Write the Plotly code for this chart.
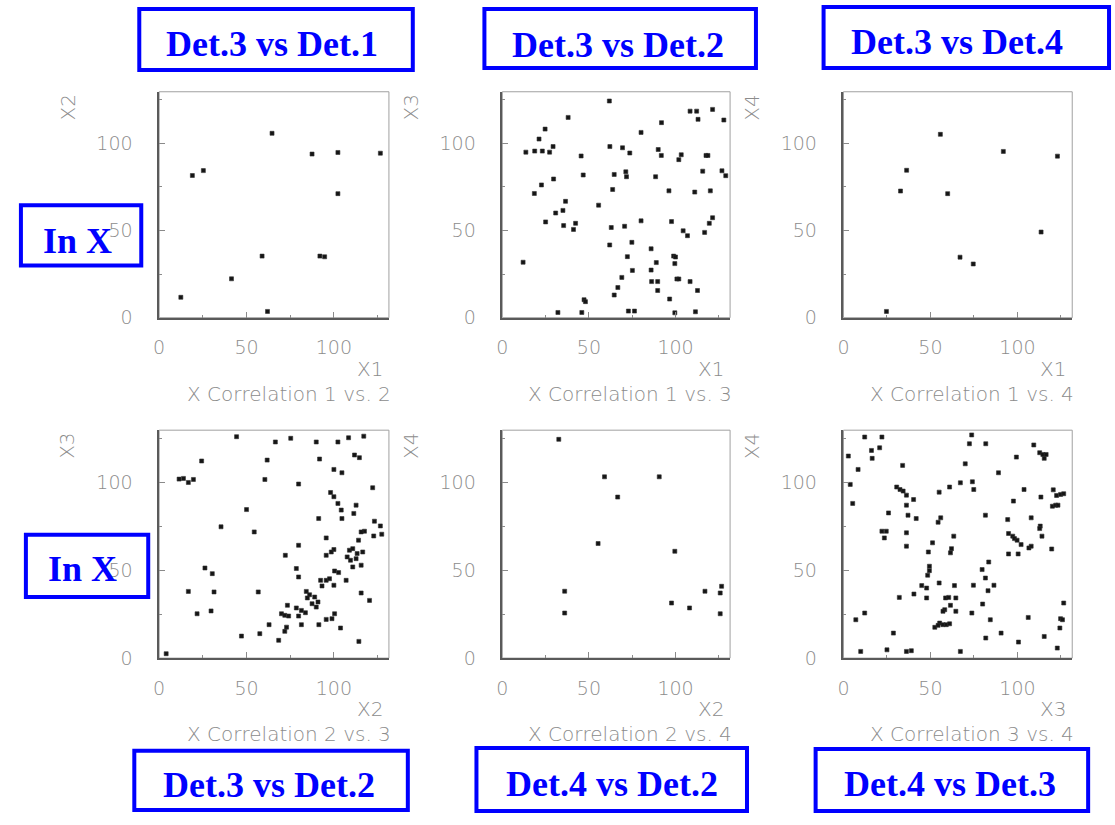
import plotly.graph_objects as go

# ---------------- data ----------------
# Panel 1: X Correlation 1 vs. 2  (X1 -> x, X2 -> y)
p1_x = [64.6, 87.5, 102.3, 126.6, 19.0, 25.3, 102.3, 58.9, 92.0, 94.7, 41.4, 12.4, 62.0]
p1_y = [105.7, 93.8, 94.7, 94.3, 81.5, 84.3, 71.1, 35.3, 35.3, 34.9, 22.3, 11.7, 3.6]

# Panel 2: X Correlation 1 vs. 3  (X1 -> x, X3 -> y)
p2_x = [61.8, 38.0, 24.7, 21.2, 13.6, 18.7, 23.1, 27.3, 29.3, 45.5, 29.6, 22.6, 18.5, 36.5,
        35.0, 30.8, 25.0, 35.4, 42.3, 41.1, 46.7, 12.0, 32.1, 45.9, 47.2, 48.0, 55.6, 62.1,
        62.9, 62.0, 64.6, 63.7, 69.4, 73.6, 71.3, 71.7, 70.6, 74.8, 72.2, 75.1, 69.0, 66.7,
        64.6, 72.8, 76.3, 80.1, 80.1, 85.9, 85.9, 88.9, 86.2, 89.7, 89.7, 88.5, 90.0, 91.8,
        91.9, 96.2, 97.7, 98.9, 100.0, 99.6, 100.8, 101.9, 96.6, 99.6, 101.9, 103.3, 104.4,
        106.9, 108.4, 108.4, 112.2, 113.0, 111.1, 111.5, 112.7, 115.7, 117.6, 118.7, 116.8,
        119.5, 121.4, 120.1, 121.4, 127.9, 126.8, 129.0]
p2_y = [124.2, 114.8, 108.1, 102.4, 94.9, 95.5, 95.5, 94.9, 98.1, 92.7, 79.5, 76.1, 71.2, 66.7,
        61.5, 60.0, 54.9, 52.8, 54.1, 50.6, 81.8, 31.8, 3.0, 3.0, 10.3, 9.2, 64.5, 98.1,
        51.7, 41.7, 82.1, 73.5, 97.4, 94.4, 83.6, 80.8, 52.4, 43.2, 35.0, 27.1, 23.1, 17.3,
        13.0, 3.8, 3.8, 106.2, 55.5, 39.5, 27.3, 31.6, 20.7, 20.7, 15.6, 80.8, 96.4, 93.0,
        111.8, 72.7, 55.1, 35.3, 34.8, 31.0, 22.2, 22.2, 10.7, 2.8, 90.6, 93.4, 49.8,
        47.0, 20.7, 118.4, 118.4, 113.7, 72.0, 3.4, 15.6, 84.0, 93.0, 93.0, 48.9,
        54.1, 57.3, 72.7, 119.4, 113.3, 84.2, 81.4]

# Panel 3: X Correlation 1 vs. 4  (X1 -> x, X4 -> y)
p3_x = [55.7, 91.9, 123.0, 36.3, 32.8, 59.9, 113.6, 67.0, 74.6, 24.7]
p3_y = [105.1, 95.3, 92.6, 84.5, 72.6, 71.1, 49.1, 34.7, 30.8, 3.6]

# Panel 4: X Correlation 2 vs. 3  (X2 -> x, X3 -> y)
p4_x = [44.3, 75.3, 66.5, 89.9, 102.3, 108.4, 117.1, 24.3, 61.8, 91.8, 111.8, 114.6, 100.0,
        104.6, 11.4, 13.9, 16.7, 19.6, 60.5, 79.8, 122.2, 98.1, 100.0, 102.3, 104.2, 112.7,
        111.4, 104.6, 91.3, 50.0, 35.4, 54.4, 123.2, 126.6, 127.4, 122.8, 117.5, 115.6, 114.1,
        95.6, 100.0, 98.5, 95.6, 108.9, 110.8, 113.3, 116.5, 107.6, 109.5, 112.7, 110.8, 115.6,
        79.8, 72.2, 78.5, 79.8, 26.2, 30.4, 100.4, 102.7, 95.6, 97.5, 92.4, 93.2, 100.0, 107.0,
        16.7, 31.4, 56.7, 84.2, 86.1, 84.8, 89.0, 90.9, 89.9, 87.5, 115.6, 120.4, 73.4, 78.5,
        81.4, 83.7, 70.0, 71.9, 74.1, 79.8, 21.7, 29.7, 100.4, 98.9, 95.6, 91.4, 81.4, 72.9,
        71.9, 68.4, 62.9, 57.6, 47.1, 103.8, 114.3, 4.0]
p4_y = [125.8, 124.9, 122.8, 122.8, 122.8, 125.2, 126.1, 112.0, 112.5, 113.1, 115.4, 113.9, 107.2,
        105.3, 101.7, 102.1, 99.8, 101.5, 101.5, 98.9, 96.8, 94.1, 91.7, 87.9, 84.1, 86.9,
        82.2, 79.3, 79.3, 84.4, 74.6, 71.7, 77.8, 75.1, 70.4, 69.4, 72.1, 71.7, 67.0,
        68.3, 61.7, 60.3, 58.4, 61.3, 62.2, 59.4, 60.3, 57.5, 55.6, 56.5, 51.8, 52.8,
        64.1, 58.4, 50.9, 46.1, 51.2, 48.0, 49.5, 48.6, 44.2, 45.1, 44.2, 41.0, 41.4, 44.2,
        37.9, 37.6, 37.6, 37.9, 36.0, 34.2, 34.7, 31.9, 29.0, 30.9, 37.0, 32.8, 30.0, 28.5,
        27.1, 25.8, 25.2, 24.3, 23.9, 23.9, 25.2, 26.8, 25.2, 22.4, 22.0, 19.0, 19.0, 17.6,
        15.2, 10.1, 19.0, 13.9, 12.5, 17.1, 9.5, 2.5]

# Panel 5: X Correlation 2 vs. 4  (X2 -> x, X4 -> y)
p5_x = [32.6, 59.0, 90.6, 66.6, 55.3, 99.6, 36.0, 36.0, 97.7, 108.1, 117.0, 125.8, 126.6, 125.8]
p5_y = [124.3, 103.0, 103.0, 91.5, 65.1, 60.7, 38.0, 25.6, 31.3, 28.5, 38.0, 37.0, 40.8, 25.2]

# Panel 6: X Correlation 3 vs. 4  (X3 -> x, X4 -> y)
p6_x = [12.2, 22.1, 73.7, 72.4, 81.8, 109.4, 112.8, 114.6, 116.5, 115.4, 16.1, 16.5, 20.8, 2.8,
        8.4, 34.0, 70.0, 99.4, 89.1, 3.9, 5.3, 30.6, 32.5, 34.3, 36.2, 40.3, 36.2, 25.9, 37.1,
        41.8, 55.0, 61.0, 67.2, 74.1, 74.9, 54.4, 55.9, 81.6, 63.4, 62.1, 61.5, 51.2, 48.8,
        49.4, 49.4, 48.4, 45.0, 47.8, 47.8, 40.5, 32.1, 55.0, 63.8, 58.7, 60.5, 64.6, 61.5,
        58.2, 57.2, 64.6, 55.3, 52.5, 54.4, 57.2, 59.1, 61.0, 74.7, 73.8, 80.0, 84.4, 81.8,
        90.6, 79.7, 81.6, 83.5, 83.1, 86.5, 94.4, 97.7, 103.8, 94.9, 97.3, 98.3, 99.8, 102.1,
        94.9, 100.4, 106.6, 107.9, 107.9, 113.1, 112.8, 114.1, 113.5, 119.7, 120.6, 122.5,
        124.8, 126.6, 120.1, 122.0, 123.3, 106.2, 115.4, 124.8, 125.9, 124.4, 126.6, 122.9,
        100.6, 28.7, 12.2, 7.1, 9.9, 25.0, 36.2, 39.0, 67.2, 22.1, 23.5, 24.6, 36.2, 36.2]
p6_y = [125.6, 125.6, 126.8, 121.8, 121.8, 121.1, 116.7, 115.7, 115.7, 113.5, 118.0, 113.5, 119.5, 114.8,
        107.2, 109.5, 110.4, 114.2, 105.3, 98.7, 87.9, 97.2, 95.8, 94.9, 92.6, 90.1, 86.9, 82.5, 81.2,
        79.3, 94.3, 97.2, 99.6, 100.2, 95.8, 77.2, 79.7, 81.2, 69.3, 62.2, 59.8, 65.5, 60.3,
        52.2, 49.7, 47.1, 41.2, 39.8, 34.2, 36.4, 34.5, 42.7, 41.2, 34.2, 34.5, 34.2, 30.0,
        27.5, 26.6, 26.6, 19.9, 17.5, 18.6, 19.0, 19.0, 19.5, 41.4, 25.6, 30.7, 21.8, 11.4,
        14.2, 50.3, 45.5, 54.6, 38.3, 41.4, 78.7, 89.2, 95.8, 70.8, 69.3, 67.9, 67.0, 64.5,
        59.2, 59.2, 62.6, 63.6, 79.7, 75.0, 73.6, 69.3, 91.5, 62.0, 95.6, 92.4,
        93.0, 93.4, 86.3, 86.9, 86.9, 23.1, 12.3, 22.4, 21.8, 17.1, 31.3, 5.7,
        9.1, 14.2, 25.6, 21.8, 3.8, 4.7, 3.8, 4.2, 3.8, 72.1, 68.3, 72.1, 71.2, 63.6]

panel_titles = ["X Correlation 1 vs. 2", "X Correlation 1 vs. 3", "X Correlation 1 vs. 4",
                "X Correlation 2 vs. 3", "X Correlation 2 vs. 4", "X Correlation 3 vs. 4"]
x_titles = ["X1", "X1", "X1", "X2", "X2", "X3"]
y_titles = ["X2", "X3", "X4", "X3", "X4", "X4"]
tick_values = [0, 50, 100]
tick_labels = ["0", "50", "100"]
minor_values = [25, 75, 125]

box_texts = ["Det.3 vs Det.1", "Det.3 vs Det.2", "Det.3 vs Det.4", "In X", "In X",
             "Det.3 vs Det.2", "Det.4 vs Det.2", "Det.4 vs Det.3"]

# ---------------- layout geometry (pixels) ----------------
W, H = 1115, 825
col_px = [(154, 385), (499, 728), (842, 1072)]
row_px = [(93, 322), (436, 667)]
X_RANGE = [0, 131.5]
Y_RANGE = [0, 129.5]

box_px = [(132, 7, 411, 73), (479, 7, 756, 71), (820, 5, 1111, 71), (13, 206, 138, 271),
          (18, 540, 145, 607), (127, 759, 406, 823), (471, 756, 747, 824), (812, 757, 1090, 824)]
text_cx = [267, 615, 956, 72, 77, 264, 609, 949]
text_cy = [41.5, 42.5, 40, 241.5, 574, 793, 792, 792]


def fx(p):
    return p / W


def fy(p):
    return 1 - p / H


GRAY_TXT = "#8c8c8c"
TICK_FONT = dict(family="DejaVu Sans", size=19, color=GRAY_TXT, weight=200)
TITLE_FONT = dict(family="DejaVu Sans", size=20, color=GRAY_TXT, weight=200)

fig = go.Figure()
data = [(p1_x, p1_y), (p2_x, p2_y), (p3_x, p3_y), (p4_x, p4_y), (p5_x, p5_y), (p6_x, p6_y)]

annotations = []
shapes = []
layout = {}
for i, (xs, ys) in enumerate(data):
    r, c = divmod(i, 3)
    n = "" if i == 0 else str(i + 1)
    fig.add_trace(go.Scatter(x=xs, y=ys, mode="markers", xaxis="x" + n, yaxis="y" + n,
                             marker=dict(symbol="square", size=4, color="#151515",
                                         line=dict(width=0.6, color="#333")),
                             showlegend=False, hoverinfo="x+y"))
    x0, x1 = col_px[c]
    y0, y1 = row_px[r]
    common = dict(showgrid=False, zeroline=False, showline=True, linecolor="#5a5a5a",
                  linewidth=1.5, ticks="inside", ticklen=6, tickwidth=1, tickcolor="#8a8a8a",
                  tickvals=tick_values, ticktext=tick_labels, tickfont=TICK_FONT,
                  minor=dict(tickvals=minor_values, ticks="inside", ticklen=3,
                             tickcolor="#8a8a8a", tickwidth=1, showgrid=False),
                  fixedrange=True)
    layout["xaxis" + n] = dict(common, domain=[fx(x0), fx(x1)], range=X_RANGE,
                               anchor="y" + n, ticklabelstandoff=12)
    layout["yaxis" + n] = dict(common, domain=[fy(y1), fy(y0)], range=Y_RANGE,
                               anchor="x" + n, ticklabelstandoff=21)
    # frame around the pad
    shapes.append(dict(type="rect", xref="x" + n + " domain", yref="y" + n + " domain",
                       x0=0, x1=1, y0=0, y1=1, line=dict(color="#a0a0a0", width=1),
                       layer="below"))
    # x axis title (right aligned) and pad title
    annotations.append(dict(text=x_titles[i], xref="paper", yref="paper", x=fx(x1 - 5),
                            y=fy(y1 + 52), xanchor="right", yanchor="middle",
                            showarrow=False, font=TITLE_FONT, borderpad=0))
    annotations.append(dict(text=panel_titles[i], xref="paper", yref="paper", x=fx(x1 + 3),
                            y=fy(y1 + 77), xanchor="right", yanchor="middle",
                            showarrow=False, font=TITLE_FONT, borderpad=0))
    # y axis title, rotated, at the top
    annotations.append(dict(text=y_titles[i], xref="paper", yref="paper", x=fx(x0 - 92),
                            y=fy(y0 + 1), xanchor="center", yanchor="top", textangle=-90,
                            showarrow=False, font=TITLE_FONT))

# blue labelled boxes
for (bx0, by0, bx1, by1), txt, cx, cy in zip(box_px, box_texts, text_cx, text_cy):
    shapes.append(dict(type="rect", xref="paper", yref="paper",
                       x0=fx(bx0 + 2), x1=fx(bx1 - 2), y0=fy(by1 - 2), y1=fy(by0 + 2),
                       line=dict(color="#0000ff", width=4), layer="above"))
    annotations.append(dict(text="<b>" + txt + "</b>", xref="paper", yref="paper",
                            x=fx(cx), y=fy(cy + 3), xanchor="center", yanchor="middle",
                            showarrow=False,
                            font=dict(family="Liberation Serif", size=36, color="#0000ff")))

fig.update_layout(width=W, height=H, margin=dict(l=0, r=0, t=0, b=0),
                  paper_bgcolor="white", plot_bgcolor="white",
                  annotations=annotations, shapes=shapes, **layout)

fig.write_html("out.html", config={"displayModeBar": False},
               post_script="document.body.style.margin='0px';document.body.style.overflow='hidden';")
